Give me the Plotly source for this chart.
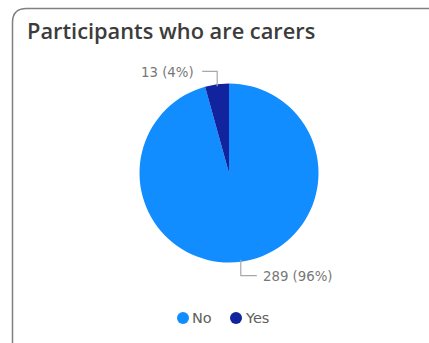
import math
import plotly.graph_objects as go

categories = ["No", "Yes"]
values = [289, 13]
colors = ["#118DFF", "#12239E"]
title_text = "Participants who are carers"

W, H = 429, 343
cx, cy, r = 229, 173, 89.5  # pie centre/radius in pixels


def px(x):
    return x / W


def py(y):
    return 1 - y / H


fig = go.Figure()
fig.add_trace(go.Pie(
    labels=categories, values=values, sort=False, direction="clockwise", rotation=0,
    marker=dict(colors=colors, line=dict(width=0)), textinfo="none", showlegend=False,
    domain=dict(x=[px(cx - r), px(cx + r)], y=[py(cy + r), py(cy - r)]),
    hoverinfo="label+value+percent",
))

shapes = []
annotations = []
label_font = dict(family="DejaVu Sans", size=13.3, color="#777777")

# data labels with leader lines
total = sum(values)
start = 0.0
for c, v in zip(categories, values):
    frac = v / total
    mid = (start + frac / 2) * 2 * math.pi
    start += frac
    sx, sy = math.sin(mid), -math.cos(mid)
    pct = round(frac * 100)
    label = f"{v} ({pct}%)"
    x0 = cx + (r - 2) * sx
    y0 = cy + (r - 2) * sy
    if sx >= 0:
        ye = cy + (r + 14) * sy
        x2 = x0 + 16
        tx, anchor = x2 + 4, "left"
    else:
        ye = cy + (r + 13) * sy
        x2 = x0 - 15
        tx, anchor = x2 - 6, "right"
    pts = [(x0, y0), (x0, ye), (x2, ye)]
    path = "M " + " L ".join(f"{px(a):.5f},{py(b):.5f}" for a, b in pts)
    shapes.append(dict(type="path", path=path, xref="paper", yref="paper",
                       line=dict(color="#A8A8A8", width=1.2)))
    annotations.append(dict(x=px(tx), y=py(ye + 1), xref="paper", yref="paper",
                            text=label, showarrow=False, xanchor=anchor, yanchor="middle",
                            font=label_font))

# manual legend with circle markers
legend_x = [183, 236]
legend_y = 318
for c, col, lx in zip(categories, colors, legend_x):
    shapes.append(dict(type="circle", xref="paper", yref="paper",
                       x0=px(lx - 6), x1=px(lx + 6), y0=py(legend_y + 6), y1=py(legend_y - 6),
                       fillcolor=col, line=dict(width=0)))
    annotations.append(dict(x=px(lx + 7), y=py(legend_y), xref="paper", yref="paper",
                            text=c, showarrow=False, xanchor="left", yanchor="middle",
                            font=dict(family="DejaVu Sans", size=14.5, color="#605E5C")))

# card border with rounded top-left
L, T, R, B, rad = 12.5, 8.5, 433, 350, 14
card = (f"M {px(L)},{py(B)} L {px(L)},{py(T + rad)} "
        f"Q {px(L)},{py(T)} {px(L + rad)},{py(T)} L {px(R)},{py(T)}")
shapes.append(dict(type="path", path=card, xref="paper", yref="paper",
                   line=dict(color="#808080", width=1.5)))

annotations.append(dict(x=px(25), y=py(31), xref="paper", yref="paper", text=title_text,
                        showarrow=False, xanchor="left", yanchor="middle",
                        font=dict(family="Open Sans", size=21.8, weight=600, color="#3C3C3C")))

fig.update_layout(
    width=W, height=H, margin=dict(l=0, r=0, t=0, b=0),
    paper_bgcolor="white", plot_bgcolor="white",
    shapes=shapes, annotations=annotations, showlegend=False,
)

fig.write_html("out.html")
